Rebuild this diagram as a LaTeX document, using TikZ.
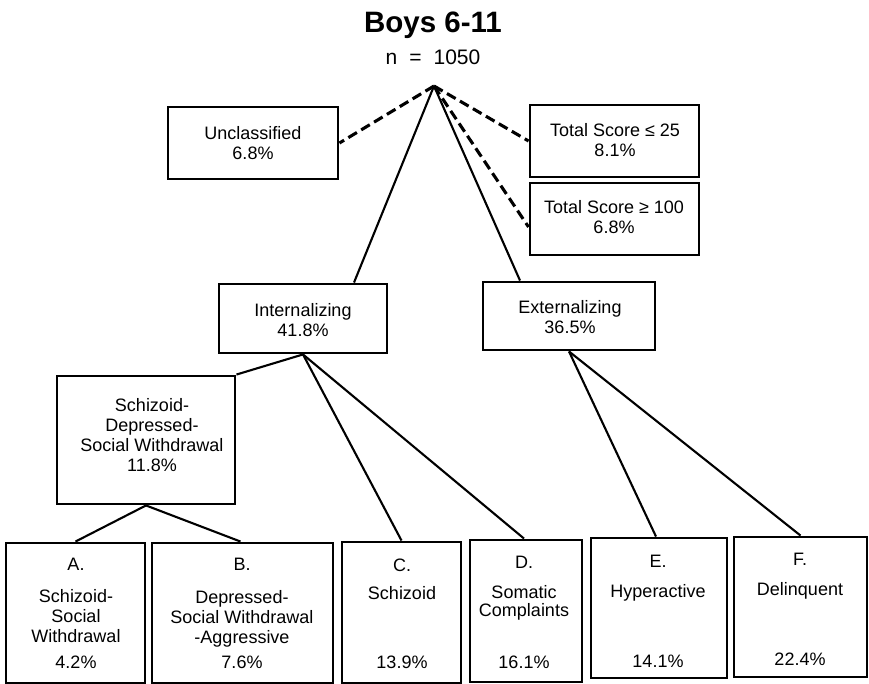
\documentclass[tikz,border=0pt]{standalone}
\usepackage{fontspec}
\setmainfont{Liberation Sans}
\begin{document}
\begin{tikzpicture}[x=1pt,y=-1pt,
  box/.style={draw, line width=2.9pt, inner sep=0pt, rectangle},
  conn/.style={line width=2.1pt},
  dconn/.style={line width=3.1pt, dash pattern=on 10pt off 5pt},
  txt/.style={font=\fontsize{18}{20}\selectfont, align=center, inner sep=0pt, anchor=base},
]
\useasboundingbox (0,0) rectangle (869,684);
% title
\node[font=\bfseries\fontsize{29.5}{32}\selectfont, anchor=base, inner sep=0pt] (title) at (433,33) {Boys 6-11};
\node[font=\fontsize{21}{24}\selectfont, anchor=base, inner sep=0pt] (nn) at (433,65) {n\hspace{12pt}=\hspace{12pt}1050};
\coordinate (apex) at (434,86);
% boxes
\node[box, minimum width=170pt, minimum height=72pt] (unc) at (253,143) {};
\node[box, minimum width=169pt, minimum height=72pt] (tle) at (614.5,141) {};
\node[box, minimum width=169pt, minimum height=72pt] (tge) at (614.5,219) {};
\node[box, minimum width=168pt, minimum height=69pt] (int) at (303,318.5) {};
\node[box, minimum width=172pt, minimum height=68pt] (ext) at (569,316) {};
\node[box, minimum width=178pt, minimum height=128pt] (sdsw) at (146,440) {};
\node[box, minimum width=139pt, minimum height=140pt] (A) at (75.5,613) {};
\node[box, minimum width=181pt, minimum height=140pt] (B) at (242.5,613) {};
\node[box, minimum width=119pt, minimum height=141pt] (C) at (401.5,612.5) {};
\node[box, minimum width=112pt, minimum height=142pt] (D) at (526,611) {};
\node[box, minimum width=136pt, minimum height=140pt] (E) at (659,608) {};
\node[box, minimum width=133pt, minimum height=140pt] (F) at (800.5,607) {};
% connectors
\draw[dconn] (apex) -- (unc.east);
\draw[dconn] (apex) -- (tle.west);
\draw[dconn] (apex) -- ([yshift=-8pt]tge.west);
\draw[conn] (apex) -- ([xshift=51pt]int.north);
\draw[conn] (apex) -- ([xshift=-49pt]ext.north);
\draw[conn] (int.south) -- (sdsw.north east);
\draw[conn] (int.south) -- (C.north);
\draw[conn] (int.south) -- ([xshift=-2pt]D.north);
\draw[conn] (ext.south) -- ([xshift=-3pt]E.north);
\draw[conn] (ext.south) -- (F.north);
\draw[conn] (sdsw.south) -- (A.north);
\draw[conn] (sdsw.south) -- ([xshift=-2pt]B.north);
% texts (anchor=base of a multi-line text is the baseline of its last line)
\node[txt] (tunc) at (253,159.5) {Unclassified\\6.8\%};
\node[txt] (ttle) at (615,156.5) {Total Score ≤ 25\\8.1\%};
\node[txt] (ttge) at (614,234) {Total Score ≥ 100\\6.8\%};
\node[txt] (tint) at (303,336.5) {Internalizing\\41.8\%};
\node[txt] (text) at (570,333.5) {Externalizing\\36.5\%};
\node[txt] (tsdsw) at (152,471.5) {Schizoid-\\Depressed-\\Social Withdrawal\\11.8\%};
\node[txt] (tAl) at (76,570) {A.};
\node[txt] (tAn) at (76,642.5) {Schizoid-\\Social\\Withdrawal};
\node[txt] (tAp) at (76,668.5) {4.2\%};
\node[txt] (tBl) at (242,570) {B.};
\node[txt] (tBn) at (242,643) {Depressed-\\Social Withdrawal\\-Aggressive};
\node[txt] (tBp) at (242,668.5) {7.6\%};
\node[txt] (tCl) at (402,571) {C.};
\node[txt] (tCn) at (402,599) {Schizoid};
\node[txt] (tCp) at (402,668.5) {13.9\%};
\node[txt] (tDl) at (524,568) {D.};
\node[txt, font=\fontsize{18}{18}\selectfont] (tDn) at (524,616) {Somatic\\Complaints};
\node[txt] (tDp) at (524,668) {16.1\%};
\node[txt] (tEl) at (658,567) {E.};
\node[txt] (tEn) at (658,597) {Hyperactive};
\node[txt] (tEp) at (658,667) {14.1\%};
\node[txt] (tFl) at (800,565) {F.};
\node[txt] (tFn) at (800,595) {Delinquent};
\node[txt] (tFp) at (800,665) {22.4\%};
\end{tikzpicture}
\end{document}
